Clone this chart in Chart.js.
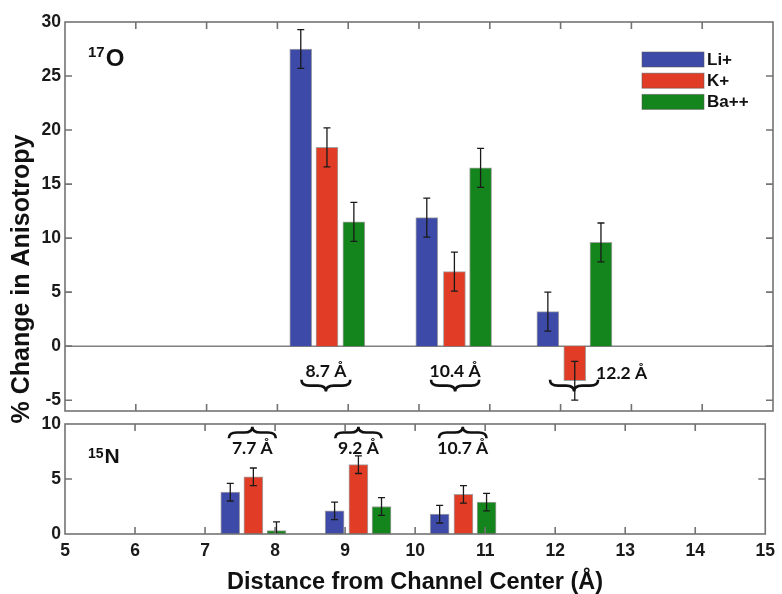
<!DOCTYPE html>
<html lang="en">
<head>
<meta charset="UTF-8">
<title>% Change in Anisotropy vs Distance from Channel Center</title>
<script src="https://cdn.jsdelivr.net/npm/chart.js"></script>
<style>
    body { margin: 0; background: #fff; }
    .wrap { position: relative; width: 782px; height: 594px; }
    canvas { position: absolute; left: 0; top: 0; }
</style>
</head>
<body>
<div class="wrap">
    <canvas id="oChart" width="782" height="594"></canvas>
    <canvas id="nChart" width="782" height="594"></canvas>
</div>
<script>
const xTicks = [5, 6, 7, 8, 9, 10, 11, 12, 13, 14, 15];
const oTicks = [-5, 0, 5, 10, 15, 20, 25, 30];
const nTicks = [0, 5, 10];

const ionNames = ['Li+', 'K+', 'Ba++'];
const ionColors = ['#3d4aa8', '#e13c25', '#14841c'];

// 17O panel: bar positions (Å), values (%), error (%)
const oLiX = [8.33, 10.11, 11.82];
const oKX  = [8.70, 10.50, 12.20];
const oBaX = [9.08, 10.87, 12.57];
const oLi = [27.5, 11.9, 3.2];
const oK  = [18.4, 6.9, -3.2];
const oBa = [11.5, 16.5, 9.6];
const oLiErr = [1.8, 1.8, 1.8];
const oKErr  = [1.8, 1.8, 1.8];
const oBaErr = [1.8, 1.8, 1.8];

// 15N panel
const nLiX = [7.36, 8.85, 10.35];
const nKX  = [7.69, 9.19, 10.69];
const nBaX = [8.02, 9.52, 11.02];
const nLi = [3.8, 2.1, 1.8];
const nK  = [5.2, 6.3, 3.6];
const nBa = [0.3, 2.5, 2.9];
const nLiErr = [0.8, 0.8, 0.8];
const nKErr  = [0.8, 0.8, 0.8];
const nBaErr = [0.8, 0.8, 0.8];

// distance brackets
const oBraceLabels = ['8.7 Å', '10.4 Å', '12.2 Å'];
const oBraceFrom = [8.34, 10.17, 11.85];
const oBraceTo   = [9.03, 10.85, 12.53];
const nBraceLabels = ['7.7 Å', '9.2 Å', '10.7 Å'];
const nBraceFrom = [7.34, 8.86, 10.34];
const nBraceTo   = [8.01, 9.52, 11.02];

const AXIS_FONT = '"Liberation Sans", Arial, sans-serif';

function pts(xs, ys) {
    return xs.map((x, i) => ({ x: x, y: ys[i] }));
}

function makeSets(xsList, ysList, errList, thick) {
    return ionNames.map((name, i) => ({
        label: name,
        data: pts(xsList[i], ysList[i]),
        errors: errList[i],
        backgroundColor: ionColors[i],
        borderColor: 'rgba(90,90,90,0.55)',
        borderWidth: 1,
        barThickness: thick,
        grouped: false
    }));
}

function brace(ctx, x1, x2, yEnd, yTip) {
    const xm = (x1 + x2) / 2, ym = (yEnd + yTip) / 2;
    const r = 8;
    ctx.beginPath();
    ctx.moveTo(x1, yEnd);
    ctx.quadraticCurveTo(x1, ym, x1 + r, ym);
    ctx.lineTo(xm - r, ym);
    ctx.quadraticCurveTo(xm, ym, xm, yTip);
    ctx.quadraticCurveTo(xm, ym, xm + r, ym);
    ctx.lineTo(x2 - r, ym);
    ctx.quadraticCurveTo(x2, ym, x2, yEnd);
    ctx.stroke();
}

// frame, inside ticks, error bars, brackets
function decor(cfg) {
    return {
        id: 'decor' + cfg.name,
        beforeDatasetsDraw(chart) {
            const { ctx, chartArea: a, scales } = chart;
            if (cfg.zeroLine) {
                const y0 = scales.y.getPixelForValue(0);
                ctx.save();
                ctx.strokeStyle = '#808080';
                ctx.lineWidth = 1.5;
                ctx.beginPath();
                ctx.moveTo(a.left, y0);
                ctx.lineTo(a.right, y0);
                ctx.stroke();
                ctx.restore();
            }
        },
        afterDatasetsDraw(chart) {
            const { ctx, chartArea: a, scales } = chart;
            ctx.save();
            ctx.beginPath();
            ctx.rect(a.left, a.top, a.right - a.left, a.bottom - a.top);
            ctx.clip();
            ctx.strokeStyle = '#1a1a1a';
            ctx.lineWidth = 1.3;
            chart.data.datasets.forEach((ds, d) => {
                const meta = chart.getDatasetMeta(d);
                meta.data.forEach((bar, i) => {
                    const v = ds.data[i].y, e = ds.errors[i];
                    const yHi = scales.y.getPixelForValue(v + e);
                    const yLo = scales.y.getPixelForValue(v - e);
                    ctx.beginPath();
                    ctx.moveTo(bar.x, yHi); ctx.lineTo(bar.x, yLo);
                    ctx.moveTo(bar.x - 3.5, yHi); ctx.lineTo(bar.x + 3.5, yHi);
                    ctx.moveTo(bar.x - 3.5, yLo); ctx.lineTo(bar.x + 3.5, yLo);
                    ctx.stroke();
                });
            });
            ctx.restore();
        },
        afterDraw(chart) {
            const { ctx, chartArea: a, scales } = chart;
            const xs = scales.x, ys = scales.y;
            ctx.save();
            // frame
            ctx.strokeStyle = '#737373';
            ctx.lineWidth = 1.6;
            ctx.strokeRect(a.left, a.top, a.right - a.left, a.bottom - a.top);
            // inside ticks
            ctx.beginPath();
            xTicks.slice(1, -1).forEach(v => {
                const px = xs.getPixelForValue(v);
                ctx.moveTo(px, a.top); ctx.lineTo(px, a.top + 7);
                ctx.moveTo(px, a.bottom); ctx.lineTo(px, a.bottom - 7);
            });
            cfg.yTicks.forEach(v => {
                const py = ys.getPixelForValue(v);
                if (Math.abs(py - a.top) < 2 || Math.abs(py - a.bottom) < 2) return;
                ctx.moveTo(a.left, py); ctx.lineTo(a.left + 7, py);
                ctx.moveTo(a.right, py); ctx.lineTo(a.right - 7, py);
            });
            ctx.stroke();

            // brackets
            ctx.strokeStyle = '#111';
            ctx.lineWidth = 2.6;
            ctx.fillStyle = '#111';
            ctx.font = 'bold 17.5px Lato, "Open Sans", sans-serif';
            ctx.textBaseline = 'middle';
            cfg.braceLabels.forEach((lab, i) => {
                const x1 = xs.getPixelForValue(cfg.braceFrom[i]);
                const x2 = xs.getPixelForValue(cfg.braceTo[i]);
                brace(ctx, x1, x2, ys.getPixelForValue(cfg.braceEnd), ys.getPixelForValue(cfg.braceTip));
                const ly = ys.getPixelForValue(cfg.labelY[i]);
                if (cfg.labelSide[i] === 'right') {
                    ctx.textAlign = 'left';
                    ctx.fillText(lab, x2 - 2, ly);
                } else {
                    ctx.textAlign = 'center';
                    ctx.fillText(lab, (x1 + x2) / 2, ly);
                }
            });

            // isotope label
            ctx.textAlign = 'left';
            ctx.textBaseline = 'alphabetic';
            ctx.fillStyle = '#111';
            ctx.font = 'bold ' + cfg.supSize + 'px ' + AXIS_FONT;
            ctx.fillText(cfg.mass, 88, cfg.supBase);
            const w = ctx.measureText(cfg.mass).width;
            ctx.font = 'bold ' + cfg.elSize + 'px ' + AXIS_FONT;
            ctx.fillText(cfg.element, 88 + w + 1, cfg.elBase);

            if (cfg.legend) {
                ctx.font = 'bold 17px ' + AXIS_FONT;
                ctx.textBaseline = 'middle';
                chart.data.datasets.forEach((ds, i) => {
                    const top = 52 + i * 21.2;
                    ctx.fillStyle = ds.backgroundColor;
                    ctx.fillRect(642, top, 62, 15);
                    ctx.strokeStyle = 'rgba(90,90,90,0.55)';
                    ctx.lineWidth = 1;
                    ctx.strokeRect(642, top, 62, 15);
                    ctx.fillStyle = '#111';
                    ctx.fillText(ds.label, 707, top + 8);
                });
            }
            if (cfg.yTitle) {
                ctx.translate(22, 279);
                ctx.rotate(-Math.PI / 2);
                ctx.textAlign = 'center';
                ctx.textBaseline = 'middle';
                ctx.fillStyle = '#111';
                ctx.font = 'bold 25px ' + AXIS_FONT;
                ctx.fillText(cfg.yTitle, 0, 0);
            }
            ctx.restore();
        }
    };
}

const tickFont = { family: AXIS_FONT, size: 17.5, weight: 'bold' };

function yScale(min, max, ticks) {
    return {
        type: 'linear',
        min: min,
        max: max,
        afterBuildTicks: s => { s.ticks = ticks.map(v => ({ value: v })); },
        afterFit: s => { s.width = 65; },
        grid: { display: false, drawTicks: false },
        border: { display: false },
        ticks: { font: tickFont, color: '#1a1a1a', padding: 4 }
    };
}

new Chart(document.getElementById('oChart'), {
    type: 'bar',
    data: { datasets: makeSets([oLiX, oKX, oBaX], [oLi, oK, oBa], [oLiErr, oKErr, oBaErr], 22) },
    options: {
        responsive: false,
        animation: false,
        layout: { padding: { top: 22, bottom: 183, left: 0, right: 9 } },
        plugins: { legend: { display: false }, tooltip: { enabled: false } },
        scales: {
            x: { type: 'linear', min: 5, max: 15, offset: false, display: false },
            y: yScale(-6, 30, oTicks)
        }
    },
    plugins: [decor({
        name: 'O', yTicks: oTicks, zeroLine: true,
        braceLabels: oBraceLabels, braceFrom: oBraceFrom, braceTo: oBraceTo,
        braceEnd: -3.1, braceTip: -4.2, labelY: [-2.3, -2.3, -2.5],
        labelSide: ['center', 'center', 'right'],
        mass: '17', element: 'O', supSize: 15, supBase: 57, elSize: 24, elBase: 66,
        legend: true, yTitle: '% Change in Anisotropy'
    })]
});

new Chart(document.getElementById('nChart'), {
    type: 'bar',
    data: { datasets: makeSets([nLiX, nKX, nBaX], [nLi, nK, nBa], [nLiErr, nKErr, nBaErr], 19) },
    options: {
        responsive: false,
        animation: false,
        layout: { padding: { top: 424, bottom: 0, left: 0, right: 9 } },
        plugins: { legend: { display: false }, tooltip: { enabled: false } },
        scales: {
            x: {
                type: 'linear', min: 5, max: 15, offset: false,
                afterBuildTicks: s => { s.ticks = xTicks.map(v => ({ value: v })); },
                afterFit: s => { s.height = 60; },
                grid: { display: false, drawTicks: false },
                border: { display: false },
                ticks: { font: tickFont, color: '#1a1a1a', padding: 7, maxRotation: 0 },
                title: {
                    display: true,
                    text: 'Distance from Channel Center (Å)',
                    font: { family: AXIS_FONT, size: 23.5, weight: 'bold', lineHeight: 1 },
                    color: '#111',
                    padding: 0
                }
            },
            y: yScale(0, 10, nTicks)
        }
    },
    plugins: [decor({
        name: 'N', yTicks: nTicks, zeroLine: false,
        braceLabels: nBraceLabels, braceFrom: nBraceFrom, braceTo: nBraceTo,
        braceEnd: 8.7, braceTip: 9.75, labelY: [7.8, 7.8, 7.8],
        labelSide: ['center', 'center', 'center'],
        mass: '15', element: 'N', supSize: 14, supBase: 458, elSize: 21, elBase: 463,
        legend: false, yTitle: null
    })]
});
</script>
</body>
</html>
